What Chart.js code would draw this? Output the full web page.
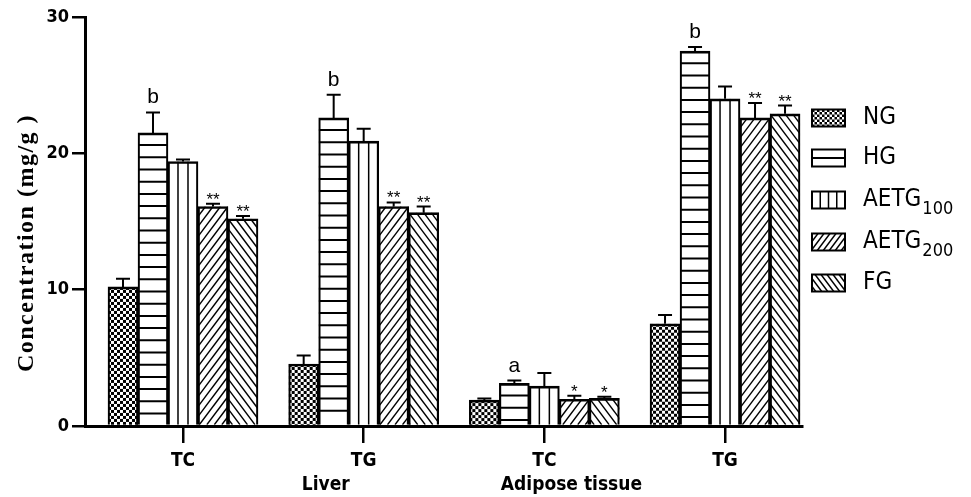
<!DOCTYPE html>
<html lang="en">
<head>
    <meta charset="UTF-8">
    <title>Concentration in liver and adipose tissue</title>
    <script src="https://cdn.jsdelivr.net/npm/chart.js"></script>
    <style>
        * {
            margin: 0;
            padding: 0;
            box-sizing: border-box;
        }
        body {
            background: #fff;
        }
        .chart-container {
            width: 971px;
            height: 497px;
        }
    </style>
</head>
<body>
    <div class="chart-container">
        <canvas id="concChart"></canvas>
    </div>

    <script>
        // Data
        const X_TICKS = ['TC', 'TG', 'TC', 'TG'];
        const GROUP_LABELS = ['Liver', 'Adipose tissue'];
        const SERIES = ['NG', 'HG', 'AETG100', 'AETG200', 'FG'];
        const SERIES_SUB = ['', '', '100', '200', ''];

        const NG = [10.2, 4.55, 1.9, 7.5];
        const HG = [21.5, 22.6, 3.13, 27.5];
        const AETG100 = [19.4, 20.9, 2.93, 24.0];
        const AETG200 = [16.1, 16.1, 1.96, 22.6];
        const FG = [15.2, 15.65, 2.03, 22.9];

        const NG_ERR = [0.6, 0.63, 0.12, 0.65];
        const HG_ERR = [1.5, 1.7, 0.2, 0.3];
        const AETG100_ERR = [0.15, 0.9, 0.95, 0.9];
        const AETG200_ERR = [0.2, 0.3, 0.26, 1.1];
        const FG_ERR = [0.2, 0.45, 0.12, 0.6];

        const NG_MARK = ['', '', '', ''];
        const HG_MARK = ['b', 'b', 'a', 'b'];
        const AETG100_MARK = ['', '', '', ''];
        const AETG200_MARK = ['**', '**', '*', '**'];
        const FG_MARK = ['**', '**', '*', '**'];

        const Y_TICKS = [0, 10, 20, 30];

        const VALUES = [NG, HG, AETG100, AETG200, FG];
        const ERRORS = [NG_ERR, HG_ERR, AETG100_ERR, AETG200_ERR, FG_ERR];
        const MARKS = [NG_MARK, HG_MARK, AETG100_MARK, AETG200_MARK, FG_MARK];
        const FILLS = ['checker', 'hlines', 'vlines', 'fdiag', 'bdiag'];

        const NARROW = "'Liberation Sans Narrow', 'DejaVu Sans Condensed', 'Liberation Sans', Arial, sans-serif";
        const SANS = "'Liberation Sans', Arial, sans-serif";

        // hatch fills drawn inside a rectangle; small=true for legend swatches
        function drawFill(ctx, kind, l, t, w, h, small) {
            ctx.save();
            ctx.beginPath();
            ctx.rect(l, t, w, h);
            ctx.clip();
            ctx.fillStyle = '#fff';
            ctx.fillRect(l, t, w, h);
            ctx.fillStyle = '#000';
            ctx.strokeStyle = '#000';
            if (kind === 'checker') {
                const c = small ? 2.5 : 3;
                let r = 0;
                for (let yy = 0; yy < h; yy += c, r++) {
                    let q = 0;
                    for (let xx = 0; xx < w; xx += c, q++) {
                        if ((r + q) % 2 === 0) ctx.fillRect(l + xx, t + yy, c, c);
                    }
                }
            } else if (kind === 'hlines') {
                ctx.lineWidth = 2;
                const step = small ? h / 2 : 12.2;
                for (let yy = t + step; yy < t + h - 2; yy += step) {
                    ctx.beginPath();
                    ctx.moveTo(l, yy);
                    ctx.lineTo(l + w, yy);
                    ctx.stroke();
                }
            } else if (kind === 'vlines') {
                ctx.lineWidth = 1.5;
                const n = small ? 4 : 3;
                for (let k = 1; k < n; k++) {
                    ctx.beginPath();
                    ctx.moveTo(l + k * w / n, t);
                    ctx.lineTo(l + k * w / n, t + h);
                    ctx.stroke();
                }
            } else {
                ctx.lineWidth = 1.4;
                const step = small ? 6 : 7.5, k = 0.75;
                const b = t + h;
                for (let xx = -h * k - step; xx < w + step; xx += step) {
                    ctx.beginPath();
                    if (kind === 'fdiag') {
                        ctx.moveTo(l + xx, b);
                        ctx.lineTo(l + xx + h * k, t);
                    } else {
                        ctx.moveTo(l + w - xx, b);
                        ctx.lineTo(l + w - xx - h * k, t);
                    }
                    ctx.stroke();
                }
            }
            ctx.restore();
        }

        const hatchPlugin = {
            id: 'hatch',
            beforeDatasetsDraw(chart) {
                const ctx = chart.ctx;
                chart.data.datasets.forEach((ds, di) => {
                    chart.getDatasetMeta(di).data.forEach(bar => {
                        const p = bar.getProps(['x', 'y', 'base', 'width'], true);
                        drawFill(ctx, FILLS[di], p.x - p.width / 2, p.y, p.width, p.base - p.y, false);
                    });
                });
            },
            afterDatasetsDraw(chart) {
                const ctx = chart.ctx;
                const yScale = chart.scales.y;
                ctx.save();
                ctx.strokeStyle = '#000';
                ctx.fillStyle = '#000';
                chart.data.datasets.forEach((ds, di) => {
                    chart.getDatasetMeta(di).data.forEach((bar, j) => {
                        const p = bar.getProps(['x', 'y'], true);
                        const top = yScale.getPixelForValue(VALUES[di][j] + ERRORS[di][j]);
                        ctx.lineWidth = 2;
                        ctx.beginPath();
                        ctx.moveTo(p.x, p.y);
                        ctx.lineTo(p.x, top);
                        ctx.moveTo(p.x - 7, top);
                        ctx.lineTo(p.x + 7, top);
                        ctx.stroke();
                        const mark = MARKS[di][j];
                        if (mark) {
                            ctx.textAlign = 'center';
                            ctx.textBaseline = 'alphabetic';
                            if (mark.includes('*')) {
                                ctx.font = '17px ' + SANS;
                                ctx.fillText(mark, p.x, top + 1);
                            } else {
                                ctx.font = '21px ' + SANS;
                                ctx.fillText(mark, p.x, top - 9);
                            }
                        }
                    });
                });
                ctx.restore();
            },
            afterDraw(chart) {
                const ctx = chart.ctx;
                const xScale = chart.scales.x;
                ctx.save();
                ctx.fillStyle = '#000';

                // axis title
                ctx.save();
                ctx.translate(27, 243);
                ctx.rotate(-Math.PI / 2);
                ctx.font = "bold 24px 'Liberation Serif', 'Times New Roman', serif";
                ctx.letterSpacing = '1.5px';
                ctx.textAlign = 'center';
                ctx.textBaseline = 'middle';
                ctx.fillText('Concentration (mg/g )', 0, 0);
                ctx.restore();

                // tissue labels under the ticks
                ctx.font = 'bold 19px ' + NARROW;
                ctx.textAlign = 'center';
                ctx.textBaseline = 'middle';
                ctx.fillText(GROUP_LABELS[0], xScale.getPixelForValue(0.79), 485);
                ctx.fillText(GROUP_LABELS[1], xScale.getPixelForValue(2.15), 485);

                // legend
                const boxL = 812, boxW = 33, boxH = 17;
                const rows = [118, 158, 200, 242, 283];
                SERIES.forEach((name, i) => {
                    const cy = rows[i];
                    drawFill(ctx, FILLS[i], boxL, cy - boxH / 2, boxW, boxH, true);
                    ctx.lineWidth = 2;
                    ctx.strokeStyle = '#000';
                    ctx.strokeRect(boxL, cy - boxH / 2, boxW, boxH);
                    const main = SERIES_SUB[i] ? name.replace(SERIES_SUB[i], '') : name;
                    ctx.font = '24px ' + NARROW;
                    ctx.textAlign = 'left';
                    ctx.textBaseline = 'middle';
                    ctx.fillText(main, 863, cy);
                    if (SERIES_SUB[i]) {
                        const wMain = ctx.measureText(main).width;
                        ctx.font = '18px ' + NARROW;
                        ctx.fillText(SERIES_SUB[i], 863 + wMain + 1, cy + 9);
                    }
                });
                ctx.restore();
            }
        };

        const datasets = SERIES.map((name, i) => ({
            label: name,
            data: VALUES[i].map((v, j) => ({ x: j, y: v })),
            backgroundColor: 'rgba(0,0,0,0)',
            borderColor: '#000',
            borderWidth: { top: 2, left: 1.5, right: 1.5, bottom: 0 },
            borderSkipped: false,
            barThickness: 30
        }));

        const ctx = document.getElementById('concChart').getContext('2d');
        new Chart(ctx, {
            type: 'bar',
            data: { datasets: datasets },
            plugins: [hatchPlugin],
            options: {
                responsive: true,
                maintainAspectRatio: false,
                animation: false,
                layout: { padding: { left: 0, right: 169, top: 17, bottom: 0 } },
                plugins: {
                    legend: { display: false },
                    tooltip: { enabled: false }
                },
                scales: {
                    x: {
                        type: 'linear',
                        min: -0.5424,
                        max: 3.426,
                        offset: false,
                        afterBuildTicks: s => { s.ticks = X_TICKS.map((t, i) => ({ value: i })); },
                        afterFit: s => { s.height = 71; },
                        grid: {
                            display: true,
                            drawOnChartArea: false,
                            drawTicks: true,
                            tickLength: 17,
                            offset: false,
                            color: '#000',
                            lineWidth: 2.5
                        },
                        border: { display: true, color: '#000', width: 3 },
                        ticks: {
                            autoSkip: false,
                            maxRotation: 0,
                            padding: 7,
                            color: '#000',
                            font: { family: NARROW, size: 19, weight: 'bold' },
                            callback: v => X_TICKS[v]
                        }
                    },
                    y: {
                        min: 0,
                        max: 30,
                        afterBuildTicks: s => { s.ticks = Y_TICKS.map(v => ({ value: v })); },
                        afterFit: s => { s.width = 85; },
                        grid: {
                            display: true,
                            drawOnChartArea: false,
                            drawTicks: true,
                            tickLength: 13,
                            color: '#000',
                            lineWidth: 2.5
                        },
                        border: { display: true, color: '#000', width: 3 },
                        ticks: {
                            padding: 3,
                            color: '#000',
                            font: { family: NARROW, size: 18, weight: 'bold' }
                        }
                    }
                }
            }
        });
    </script>
</body>
</html>
